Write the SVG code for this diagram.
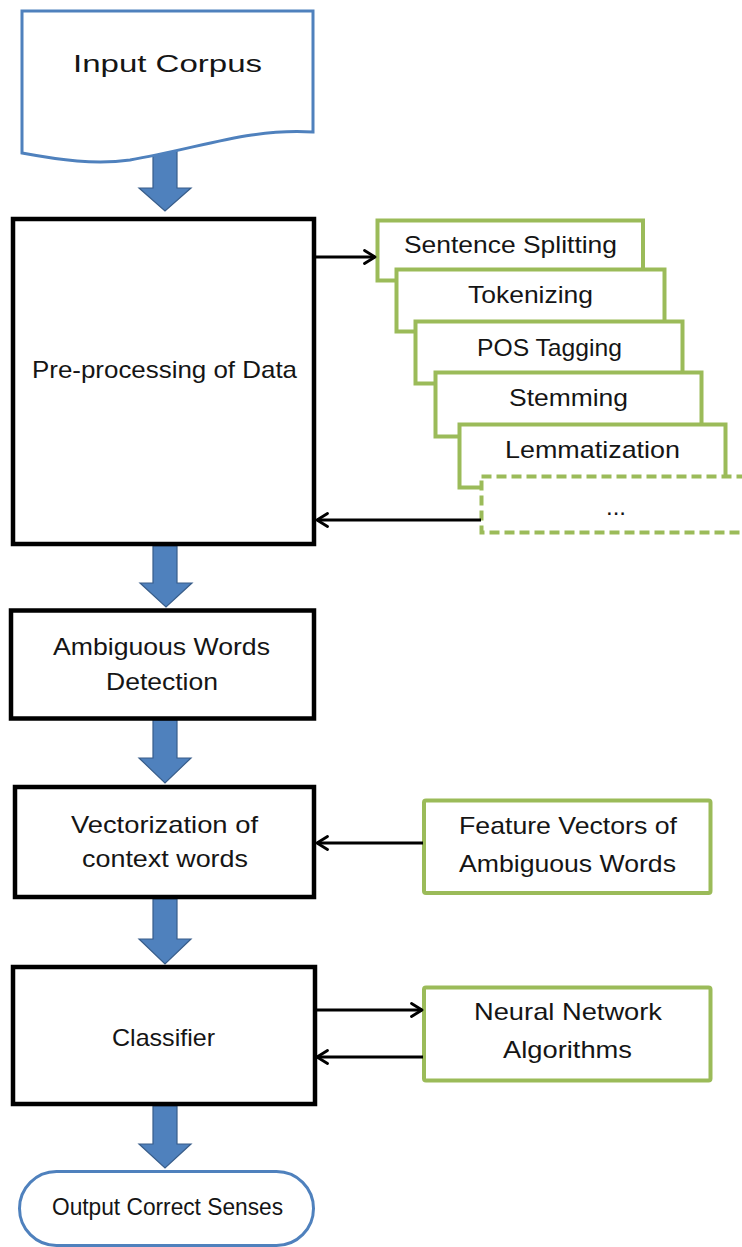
<svg xmlns="http://www.w3.org/2000/svg" width="742" height="1247" viewBox="0 0 742 1247">
<defs>
<style>
.t{font-family:"Liberation Sans",Arial,sans-serif;fill:#151515;text-anchor:middle;font-size:24px}
.blk{fill:#fff;stroke:#000;stroke-width:4.5}
.grn{fill:#fff;stroke:#9BBB59;stroke-width:4}
.dash{stroke-dasharray:10 5}
.blue{fill:#fff;stroke:#4F81BD;stroke-width:3}
.fat{fill:#4F81BD;stroke:#385D8A;stroke-width:1.2}
.ln{fill:none;stroke:#000;stroke-width:2.8}
</style>
<marker id="ah" viewBox="0 0 14 16" refX="12" refY="8" markerWidth="14" markerHeight="16" markerUnits="userSpaceOnUse" orient="auto">
<path d="M1.5,1.5 L12,8 L1.5,14.5" fill="none" stroke="#000" stroke-width="2.8" stroke-linecap="round" stroke-linejoin="round"/>
</marker>
</defs>
<rect width="742" height="1247" fill="#fff"/>

<g id="block-arrows">
<path class="fat" d="M153,148 H177 V188 H191 L165,211 L139,188 H153 Z"/>
<path class="fat" d="M153,546 H177 V583 H192 L166,607 L140,583 H153 Z"/>
<path class="fat" d="M153,720 H177 V758 H191 L165,783 L139,758 H153 Z"/>
<path class="fat" d="M153,899 H177 V939 H191 L165,964 L139,939 H153 Z"/>
<path class="fat" d="M153,1106 H177 V1144 H191 L165,1168 L139,1144 H153 Z"/>
</g>

<g id="input-corpus">
<path class="blue" d="M22,11 H313 V132 C250,128 200,148 130,160 C95,165 60,160 22,153 Z"/>
<text class="t" x="167.5" y="72" font-size="28" textLength="189" lengthAdjust="spacingAndGlyphs">Input Corpus</text>
</g>

<g id="preprocessing">
<rect class="blk" x="13" y="219" width="301" height="325"/>
<text class="t" x="164.5" y="378" textLength="265" lengthAdjust="spacingAndGlyphs">Pre-processing of Data</text>
</g>

<g id="sentence-splitting">
<rect class="grn" x="377.5" y="220.5" width="265.5" height="60"/>
<text class="t" x="510.5" y="253" textLength="213" lengthAdjust="spacingAndGlyphs">Sentence Splitting</text>
</g>
<g id="tokenizing">
<rect class="grn" x="396.5" y="269.5" width="268" height="62"/>
<text class="t" x="530.5" y="303" textLength="125" lengthAdjust="spacingAndGlyphs">Tokenizing</text>
</g>
<g id="pos-tagging">
<rect class="grn" x="415.5" y="321.5" width="267" height="62"/>
<text class="t" x="549.5" y="356" textLength="145" lengthAdjust="spacingAndGlyphs">POS Tagging</text>
</g>
<g id="stemming">
<rect class="grn" x="435.5" y="372.5" width="266" height="64"/>
<text class="t" x="568.5" y="406" textLength="119" lengthAdjust="spacingAndGlyphs">Stemming</text>
</g>
<g id="lemmatization">
<rect class="grn" x="459.5" y="424.5" width="266" height="63"/>
<text class="t" x="592.5" y="458" textLength="175" lengthAdjust="spacingAndGlyphs">Lemmatization</text>
</g>
<g id="more">
<rect class="grn dash" x="481.5" y="476.5" width="266" height="56"/>
<text class="t" x="616" y="515">...</text>
</g>

<g id="ambiguous-detection">
<rect class="blk" x="11" y="610.5" width="303" height="108"/>
<text class="t" x="161.5" y="655" textLength="217" lengthAdjust="spacingAndGlyphs">Ambiguous Words</text>
<text class="t" x="162" y="690" textLength="112" lengthAdjust="spacingAndGlyphs">Detection</text>
</g>

<g id="vectorization">
<rect class="blk" x="15" y="787" width="299" height="110"/>
<text class="t" x="164.5" y="833" textLength="187" lengthAdjust="spacingAndGlyphs">Vectorization of</text>
<text class="t" x="165" y="867" textLength="166" lengthAdjust="spacingAndGlyphs">context words</text>
</g>

<g id="feature-vectors">
<rect class="grn" x="424" y="800.5" width="286.5" height="92.5" rx="2"/>
<text class="t" x="568" y="834" textLength="218" lengthAdjust="spacingAndGlyphs">Feature Vectors of</text>
<text class="t" x="567.5" y="872" textLength="217" lengthAdjust="spacingAndGlyphs">Ambiguous Words</text>
</g>

<g id="classifier">
<rect class="blk" x="13" y="967" width="302" height="137"/>
<text class="t" x="163.5" y="1046" textLength="103" lengthAdjust="spacingAndGlyphs">Classifier</text>
</g>

<g id="neural-network">
<rect class="grn" x="424" y="987.5" width="286.5" height="93" rx="2"/>
<text class="t" x="568" y="1020" textLength="188" lengthAdjust="spacingAndGlyphs">Neural Network</text>
<text class="t" x="567.5" y="1058" textLength="129" lengthAdjust="spacingAndGlyphs">Algorithms</text>
</g>

<g id="output">
<rect class="blue" x="19.5" y="1171.5" width="294" height="74" rx="37" ry="37"/>
<text class="t" x="167.5" y="1215" font-size="22" textLength="231" lengthAdjust="spacingAndGlyphs">Output Correct Senses</text>
</g>

<g id="connectors">
<line class="ln" x1="316" y1="257" x2="375" y2="257" marker-end="url(#ah)"/>
<line class="ln" x1="481" y1="520" x2="317" y2="520" marker-end="url(#ah)"/>
<line class="ln" x1="423" y1="843" x2="317" y2="843" marker-end="url(#ah)"/>
<line class="ln" x1="317" y1="1010" x2="422" y2="1010" marker-end="url(#ah)"/>
<line class="ln" x1="423" y1="1057" x2="317" y2="1057" marker-end="url(#ah)"/>
</g>
</svg>
